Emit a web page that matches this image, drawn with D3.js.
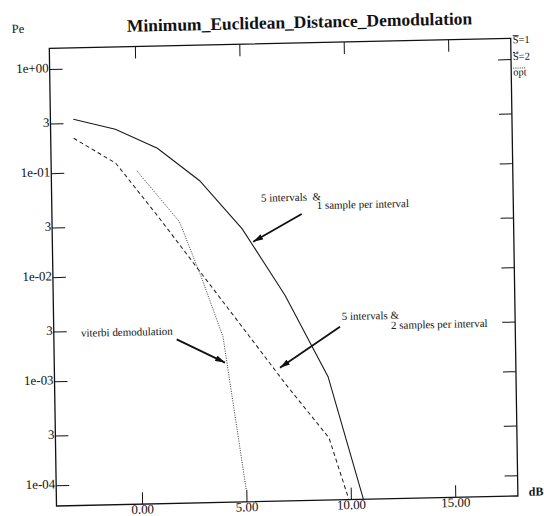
<!DOCTYPE html>
<html>
<head>
<meta charset="utf-8">
<script src="https://cdn.jsdelivr.net/npm/d3@7"></script>
<style>
  html, body { margin: 0; padding: 0; background: #fff; }
  svg { display: block; }
  svg text { font-family: "Liberation Serif", "Times New Roman", Times, serif; fill: #111; }
</style>
</head>
<body>
<svg id="chart" width="544" height="516" font-family="Liberation Serif, serif"></svg>
<script>
// ---- data ----------------------------------------------------------------
const dbTicks = [0, 5, 10, 15];
const dbTickLabels = ["0.00", "5.00", "10.00", "15.00"];
const peTicks = [1, 0.3, 0.1, 0.03, 0.01, 0.003, 0.001, 0.0003, 0.0001];
const peTickLabels = ["1e+00", "3", "1e-01", "3", "1e-02", "3", "1e-03", "3", "1e-04"];

// S=1 : 5 intervals, 1 sample per interval
const s1Db = [-3, -1, 1, 3, 5, 7, 9, 11];
const s1Pe = [0.326, 0.256, 0.165, 0.0787, 0.0266, 0.0060, 0.00097, 0.000032];
// S=2 : 5 intervals, 2 samples per interval
const s2Db = [-3, -1, 1, 3, 5, 7, 9, 11];
const s2Pe = [0.214, 0.1205, 0.036, 0.0102, 0.0029, 0.00082, 0.00025, 0.000012];
// opt : viterbi demodulation
const optDb = [0, 2, 3, 4, 5];
const optPe = [0.101, 0.0321, 0.0094, 0.00247, 0.000082];

const legendLabels = ["S=1", "S=2", "opt"];

// ---- layout --------------------------------------------------------------
const W = 462, H = 458;
const svg = d3.select("#chart");
// the whole sheet sits slightly tilted on the page
const g = svg.append("g")
  .attr("transform", "matrix(0.9987,-0.02165,0.01572,0.99935,49.3,48.3)");

const x = d3.scaleLinear().domain([-4.1, 18]).range([0, W]);
const y = d3.scaleLog().domain([Math.pow(10, -4.2), Math.pow(10, 0.2)]).range([H, 0]);

const ink = "#111";
const serif = '"Liberation Serif", "Times New Roman", Times, serif';

function styleAxis(sel, fontSize) {
  sel.select(".domain").remove();
  sel.selectAll(".tick line").attr("stroke", ink).attr("stroke-width", 1);
  sel.attr("font-family", serif).attr("font-size", fontSize);
  sel.selectAll(".tick text").attr("fill", ink);
}

// left axis with labels
g.append("g")
  .call(d3.axisLeft(y).tickValues(peTicks)
    .tickFormat(d => peTickLabels[peTicks.indexOf(d)])
    .tickSizeInner(-13).tickSizeOuter(0).tickPadding(1))
  .call(s => styleAxis(s, 13))
  .call(s => s.selectAll(".tick text").attr("dy", "0.21em"));

// right axis, ticks only
g.append("g").attr("transform", `translate(${W},0)`)
  .call(d3.axisRight(y).tickValues(peTicks).tickFormat("")
    .tickSizeInner(-13).tickSizeOuter(0))
  .call(s => styleAxis(s, 13));

// top axis, ticks only
g.append("g")
  .call(d3.axisTop(x).tickValues(dbTicks).tickFormat("")
    .tickSizeInner(-12).tickSizeOuter(0))
  .call(s => styleAxis(s, 13));

// bottom axis with labels
g.append("g").attr("transform", `translate(0,${H})`)
  .call(d3.axisBottom(x).tickValues(dbTicks)
    .tickFormat(d => dbTickLabels[dbTicks.indexOf(d)])
    .tickSizeInner(-12).tickSizeOuter(0).tickPadding(1))
  .call(s => styleAxis(s, 13))
  .call(s => s.selectAll(".tick text").attr("dy", "0.66em"));

// frame
g.append("rect")
  .attr("x", 0).attr("y", 0).attr("width", W).attr("height", H)
  .attr("fill", "none").attr("stroke", ink).attr("stroke-width", 1.3);

// ---- curves --------------------------------------------------------------
g.append("clipPath").attr("id", "plotClip")
  .append("rect").attr("x", 0).attr("y", 0).attr("width", W).attr("height", H);

const line = d3.line().x(d => x(d[0])).y(d => y(d[1]));
const series = [
  { db: s1Db, pe: s1Pe, dash: null, width: 1.1, color: "#1a1a1a" },
  { db: s2Db, pe: s2Pe, dash: "4,3", width: 1.0, color: "#1a1a1a" },
  { db: optDb, pe: optPe, dash: "1,1.4", width: 0.9, color: "#222" }
];
const curves = g.append("g").attr("clip-path", "url(#plotClip)");
series.forEach(s => {
  curves.append("path")
    .datum(s.db.map((d, i) => [d, s.pe[i]]))
    .attr("d", line)
    .attr("fill", "none")
    .attr("stroke", s.color)
    .attr("stroke-width", s.width)
    .attr("stroke-dasharray", s.dash);
});

// ---- legend (line sample drawn over each label) ---------------------------
const legendY = [5, 21.7, 37.4];
const legendSample = [6, 6, 12];
legendLabels.forEach((lab, i) => {
  g.append("text")
    .attr("x", W + 2).attr("y", legendY[i])
    .attr("font-size", 10.5)
    .text(lab);
  g.append("line")
    .attr("x1", W + 2).attr("x2", W + 2 + legendSample[i])
    .attr("y1", legendY[i] - 7.5).attr("y2", legendY[i] - 7.5)
    .attr("stroke", series[i].color)
    .attr("stroke-width", i === 2 ? 0.9 : 1)
    .attr("stroke-dasharray", i === 0 ? null : (i === 1 ? "2,1.5" : "1,1.2"));
});

// ---- titles --------------------------------------------------------------
g.append("text")
  .attr("x", 78).attr("y", -14.9)
  .attr("font-size", 17.5).attr("font-weight", "bold")
  .text("Minimum_Euclidean_Distance_Demodulation");

g.append("text")
  .attr("x", -37.4).attr("y", -16.1)
  .attr("font-size", 12.5)
  .text("Pe");

g.append("text")
  .attr("x", W + 11).attr("y", H)
  .attr("font-size", 12).attr("font-weight", "bold")
  .text("dB");

// ---- annotations ---------------------------------------------------------
const defs = svg.append("defs");
defs.append("marker")
  .attr("id", "head")
  .attr("viewBox", "0 0 10 6")
  .attr("refX", 10).attr("refY", 3)
  .attr("markerWidth", 10).attr("markerHeight", 6)
  .attr("markerUnits", "userSpaceOnUse")
  .attr("orient", "auto")
  .append("path").attr("d", "M0,0 L10,3 L0,6 Z").attr("fill", ink);

const notes = [
  { lines: [["5 intervals  &", 5.92, 0.0481], ["1 sample per interval", 8.58, 0.0398]],
    from: [7.86, 0.0359], to: [5.52, 0.0199] },
  { lines: [["5 intervals &", 9.70, 0.00337], ["2 samples per interval", 12.05, 0.00270]],
    from: [9.61, 0.00291], to: [6.705, 0.00121] },
  { lines: [["viterbi demodulation", -2.80, 0.00264]],
    from: [1.78, 0.00238], to: [4.077, 0.00139] }
];
notes.forEach(n => {
  n.lines.forEach(([t, db, pe]) => {
    g.append("text")
      .attr("x", x(db)).attr("y", y(pe))
      .attr("font-size", 11)
      .style("white-space", "pre")
      .text(t);
  });
  g.append("line")
    .attr("x1", x(n.from[0])).attr("y1", y(n.from[1]))
    .attr("x2", x(n.to[0])).attr("y2", y(n.to[1]))
    .attr("stroke", ink).attr("stroke-width", 1.8)
    .attr("marker-end", "url(#head)");
});
</script>
</body>
</html>
